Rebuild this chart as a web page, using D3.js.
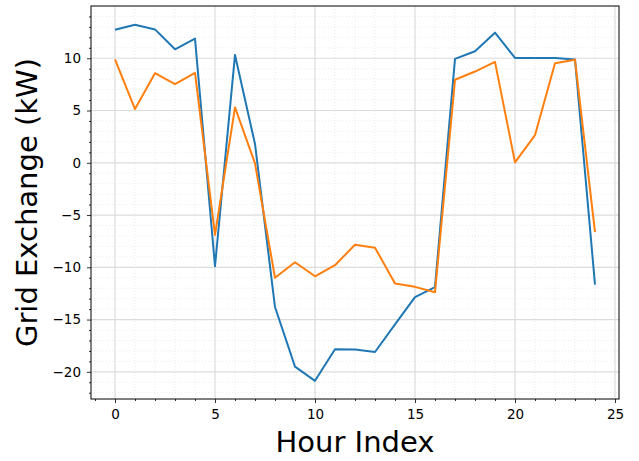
<!DOCTYPE html>
<html>
<head>
<meta charset="utf-8">
<script src="https://cdn.jsdelivr.net/npm/d3@7"></script>
<style>
  body { margin: 0; background: #fff; }
  text { font-family: "DejaVu Sans", sans-serif; }
</style>
</head>
<body>
<div id="chart"></div>
<script>
// hourly values
const hours = d3.range(0, 25);
const seriesA = [12.73, 13.2, 12.76, 10.86, 11.88, -9.9, 10.32, 1.8, -13.8, -19.5, -20.86, -17.84,
                 -17.87, -18.1, -15.46, -12.86, -11.9, 9.94, 10.67, 12.45, 10.03, 10.03, 10.02, 9.88, -11.65];
const seriesB = [9.9, 5.14, 8.57, 7.52, 8.6, -6.9, 5.3, -0.05, -11.0, -9.52, -10.86, -9.8,
                 -7.84, -8.12, -11.55, -11.87, -12.38, 7.94, 8.73, 9.65, 0.04, 2.64, 9.52, 9.85, -6.63];
const xTicks = [0, 5, 10, 15, 20, 25];
const yTicks = [-20, -15, -10, -5, 0, 5, 10];

const width = 639, height = 461;
const margin = { top: 6, right: 20, bottom: 62, left: 91 };
const innerW = width - margin.left - margin.right;
const innerH = height - margin.top - margin.bottom;

const svg = d3.select("#chart").append("svg")
    .attr("width", width)
    .attr("height", height);

const g = svg.append("g").attr("transform", `translate(${margin.left},${margin.top})`);

// matplotlib style 5% margins
const x = d3.scaleLinear().domain([-1.2, 25.2]).range([0, innerW]);
const y = d3.scaleLinear().domain([-22.6, 15.0]).range([innerH, 0]);

const xMinor = d3.range(-1, 26).filter(v => !xTicks.includes(v));
const yMinor = d3.range(-22, 15).filter(v => !yTicks.includes(v));

// minor grid (dotted)
g.append("g").selectAll("line").data(xMinor).join("line")
    .attr("x1", d => x(d)).attr("x2", d => x(d))
    .attr("y1", 0).attr("y2", innerH)
    .attr("stroke", "#e6e6e6").attr("stroke-width", 0.8)
    .attr("stroke-dasharray", "1,2");
g.append("g").selectAll("line").data(yMinor).join("line")
    .attr("x1", 0).attr("x2", innerW)
    .attr("y1", d => y(d)).attr("y2", d => y(d))
    .attr("stroke", "#e6e6e6").attr("stroke-width", 0.8)
    .attr("stroke-dasharray", "1,2");

// major grid
g.append("g").selectAll("line").data(xTicks).join("line")
    .attr("x1", d => x(d)).attr("x2", d => x(d))
    .attr("y1", 0).attr("y2", innerH)
    .attr("stroke", "#dcdcdc").attr("stroke-width", 1.2);
g.append("g").selectAll("line").data(yTicks).join("line")
    .attr("x1", 0).attr("x2", innerW)
    .attr("y1", d => y(d)).attr("y2", d => y(d))
    .attr("stroke", "#dcdcdc").attr("stroke-width", 1.2);

// lines
const line = d3.line().x((d, i) => x(hours[i])).y(d => y(d));
g.append("path").datum(seriesA)
    .attr("fill", "none").attr("stroke", "#1f77b4").attr("stroke-width", 2)
    .attr("stroke-linejoin", "round").attr("d", line);
g.append("path").datum(seriesB)
    .attr("fill", "none").attr("stroke", "#ff7f0e").attr("stroke-width", 2)
    .attr("stroke-linejoin", "round").attr("d", line);

// axes
g.append("g").attr("transform", `translate(0,${innerH})`)
    .call(d3.axisBottom(x).tickValues(xTicks).tickSize(4).tickPadding(6).tickFormat(d3.format("d")));
g.append("g").attr("transform", `translate(0,${innerH})`)
    .call(d3.axisBottom(x).tickValues(xMinor).tickSize(2).tickFormat(""));
g.append("g")
    .call(d3.axisLeft(y).tickValues(yTicks).tickSize(4).tickPadding(6).tickFormat(d => d < 0 ? "\u2212" + Math.abs(d) : d));
g.append("g")
    .call(d3.axisLeft(y).tickValues(yMinor).tickSize(2).tickFormat(""));

g.selectAll(".domain").remove();
g.selectAll(".tick line").attr("stroke", "#000").attr("stroke-width", 0.8);
g.selectAll(".tick text").attr("font-family", "DejaVu Sans").attr("font-size", 13.5).attr("fill", "#000");

// frame
g.append("rect").attr("width", innerW).attr("height", innerH)
    .attr("fill", "none").attr("stroke", "#000").attr("stroke-width", 1);

// labels
svg.append("text")
    .attr("x", margin.left + innerW / 2).attr("y", 452)
    .attr("text-anchor", "middle").attr("font-size", 29)
    .text("Hour Index");
svg.append("text")
    .attr("transform", `translate(37,${margin.top + innerH / 2}) rotate(-90)`)
    .attr("text-anchor", "middle").attr("font-size", 29)
    .text("Grid Exchange (kW)");
</script>
</body>
</html>
